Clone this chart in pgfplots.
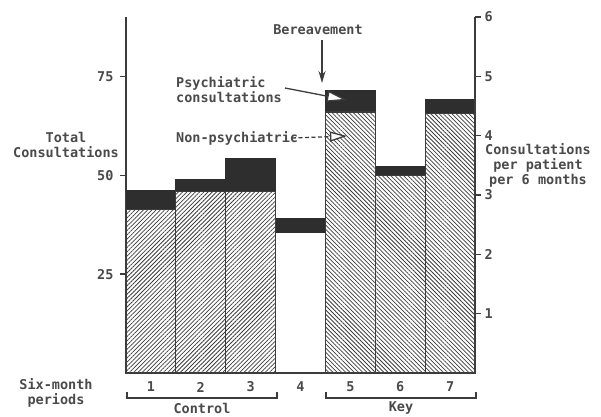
\documentclass[border=0pt]{standalone}
\usepackage{fontspec}
\setmainfont{DejaVu Sans Mono}
\usepackage{pgfplots}
\pgfplotsset{compat=1.18}
\usetikzlibrary{patterns.meta, arrows.meta}
\definecolor{ink}{HTML}{3C3C3C}
\definecolor{txt}{HTML}{4A4A4A}
\definecolor{dark}{HTML}{2E2E2E}
\tikzset{lbl/.style={font=\bfseries\fontsize{13.5bp}{15bp}\selectfont, text=txt, inner sep=0pt}}
\begin{document}
\begin{tikzpicture}
\path[use as bounding box] (-126bp,-44bp) rectangle (475bp,373bp);
\begin{axis}[
  at={(0bp,0bp)}, anchor=south west,
  scale only axis, width=349bp, height=356bp,
  xmin=0.5, xmax=7.5, ymin=0, ymax=90,
  axis lines*=left,
  axis line style={ink, line width=1.6bp},
  ybar stacked, bar width=1,
  xtick={1,...,7}, xticklabels={1,2,3,4,5,6,7},
  ytick={25,50,75},
  tick align=outside,
  major tick length=6bp,
  y tick style={ink, line width=1.4bp},
  x tick style={draw=none},
  /pgf/number format/assume math mode=true,
  ticklabel style={font=\bfseries\fontsize{13.5bp}{15bp}\selectfont, text=txt},
  xticklabel style={anchor=center, yshift=-8bp},
  yticklabel style={xshift=-3bp},
  clip=false,
]
\addplot[draw=ink, line width=1.2bp, pattern={Lines[angle=45, distance=3bp, line width=0.75bp]}, pattern color=ink]
  coordinates {(1,41.4) (2,45.8) (3,45.8) (4,0) (5,0) (6,0) (7,0)};
\addplot[draw=ink, line width=1.2bp, pattern={Lines[angle=-45, distance=3bp, line width=0.75bp]}, pattern color=ink]
  coordinates {(1,0) (2,0) (3,0) (4,0) (5,66.0) (6,50.0) (7,65.6)};
\addplot[draw=none, fill=none]
  coordinates {(1,0) (2,0) (3,0) (4,35.5) (5,0) (6,0) (7,0)};
\addplot[draw=dark, line width=1.0bp, fill=dark]
  coordinates {(1,4.8) (2,3.2) (3,8.4) (4,3.6) (5,5.5) (6,2.1) (7,3.6)};
\end{axis}
\begin{axis}[
  at={(0bp,0bp)}, anchor=south west,
  scale only axis, width=349bp, height=356bp,
  xmin=0.5, xmax=7.5, ymin=0, ymax=6,
  axis y line*=right, axis x line=none,
  axis line style={ink, line width=1.6bp},
  ytick={1,...,6},
  tick align=outside,
  major tick length=6bp,
  y tick style={ink, line width=1.4bp},
  /pgf/number format/assume math mode=true,
  ticklabel style={font=\bfseries\fontsize{13.5bp}{15bp}\selectfont, text=txt},
]
\end{axis}
% labels
\node[lbl, align=center] at (-60bp,228bp) {Total\\Consultations};
\node[lbl, align=left, anchor=west] at (50bp,283bp) {Psychiatric\\consultations};
\node[lbl, anchor=west] at (50bp,235bp) {Non-psychiatric};
\node[lbl] at (192bp,343bp) {Bereavement};
\node[lbl, align=center] at (412bp,208bp) {Consultations\\per patient\\per 6 months};
\node[lbl, align=center] at (-70bp,-20bp) {Six-month\\periods};
\node[lbl] at (76bp,-35bp) {Control};
\node[lbl] at (275bp,-35bp) {Key};
% brackets
\draw[ink, line width=1.1bp] (1bp,-19bp) -- (1bp,-25bp) -- (151bp,-25bp) -- (151bp,-19bp);
\draw[ink, line width=1.1bp] (200bp,-19bp) -- (200bp,-25bp) -- (350bp,-25bp) -- (350bp,-19bp);
% arrows
\draw[ink, line width=1.3bp, -{Triangle[length=20bp, width=11bp, fill=white, line width=1.3bp]}] (159bp,285bp) -- (221bp,273bp);
\draw[ink, line width=1.3bp, dash pattern=on 4bp off 2.5bp, -{Triangle[length=17bp, width=10bp, fill=white, line width=1.3bp]}] (166bp,235bp) -- (221bp,237bp);
\draw[ink, line width=1.3bp, -{Stealth[length=12bp, width=7bp]}] (196bp,333bp) -- (196bp,290bp);
\end{tikzpicture}
\end{document}
